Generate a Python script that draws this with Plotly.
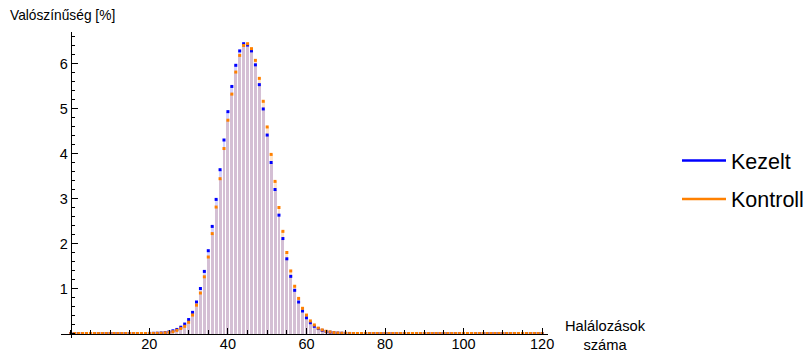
import plotly.graph_objects as go

# ---- data ----
deaths = list(range(0, 121))

kezelt_start = 20
kezelt_values = [0.002, 0.004, 0.007, 0.012, 0.02, 0.035, 0.06, 0.09, 0.14, 0.21,
                 0.31, 0.47, 0.70, 1.00, 1.38, 1.84, 2.38, 2.98, 3.64, 4.30,
                 4.93, 5.49, 5.96, 6.28, 6.44, 6.41, 6.28, 5.97, 5.53, 4.99,
                 4.41, 3.80, 3.20, 2.63, 2.11, 1.66, 1.27, 0.96, 0.70, 0.50,
                 0.35, 0.24, 0.16, 0.11, 0.07, 0.045, 0.03, 0.018, 0.01, 0.006,
                 0.003]

kontroll_start = 20
kontroll_values = [0.001, 0.002, 0.004, 0.008, 0.015, 0.025, 0.04, 0.07, 0.11, 0.16,
                   0.25, 0.41, 0.63, 0.90, 1.26, 1.70, 2.22, 2.81, 3.44, 4.11,
                   4.74, 5.32, 5.81, 6.18, 6.40, 6.44, 6.33, 6.07, 5.67, 5.16,
                   4.59, 3.98, 3.38, 2.80, 2.27, 1.80, 1.39, 1.05, 0.78, 0.56,
                   0.41, 0.28, 0.19, 0.12, 0.08, 0.05, 0.035, 0.02, 0.012, 0.007,
                   0.004, 0.002]

x_ticks = [20, 40, 60, 80, 100, 120]
y_ticks = [1, 2, 3, 4, 5, 6]
series_names = ["Kezelt", "Kontroll"]
x_title = "Halálozások<br>száma"
y_title = "Valószínűség [%]"

# full series over all categories (values outside the listed range are zero)
kezelt = [0.0] * len(deaths)
for i, v in enumerate(kezelt_values):
    kezelt[kezelt_start + i] = v
kontroll = [0.0] * len(deaths)
for i, v in enumerate(kontroll_values):
    kontroll[kontroll_start + i] = v

BLUE = "#0000FF"
ORANGE = "#FF8000"
FONT = "Liberation Sans, Arial, sans-serif"

W, H = 810, 353
ML, MR, MT, MB = 61, 262, 32, 15
XR = [-2.5, 121.5]
YR = [-0.1, 6.7]

fig = go.Figure()

# fillings (to axis)
fig.add_trace(go.Bar(x=deaths, y=kontroll, width=0.75,
                     marker=dict(color="rgba(255,128,0,0.2)", line=dict(width=0)),
                     showlegend=False, hoverinfo="skip"))
fig.add_trace(go.Bar(x=deaths, y=kezelt, width=0.75,
                     marker=dict(color="rgba(0,0,255,0.17)", line=dict(width=0)),
                     showlegend=False, hoverinfo="skip"))
# points
fig.add_trace(go.Scatter(x=deaths, y=kezelt, mode="markers",
                         marker=dict(color=BLUE, size=3, symbol="square"),
                         showlegend=False))
fig.add_trace(go.Scatter(x=deaths, y=kontroll, mode="markers",
                         marker=dict(color=ORANGE, size=3, symbol="square"),
                         showlegend=False))
# legend entries
fig.add_trace(go.Scatter(x=[None], y=[None], mode="lines", name=series_names[0],
                         line=dict(color=BLUE, width=2.5), legend="legend"))
fig.add_trace(go.Scatter(x=[None], y=[None], mode="lines", name=series_names[1],
                         line=dict(color=ORANGE, width=2.5), legend="legend2"))

legend_common = dict(xref="container", yref="container", xanchor="left",
                     yanchor="middle", bgcolor="rgba(0,0,0,0)", itemwidth=44,
                     font=dict(family=FONT, size=21.5, color="black"))

fig.update_layout(
    width=W, height=H,
    margin=dict(l=ML, r=MR, t=MT, b=MB, autoexpand=False),
    paper_bgcolor="white", plot_bgcolor="white",
    barmode="overlay", bargap=0,
    font=dict(family=FONT, size=14, color="black"),
    legend=dict(x=677 / W, y=1 - 160.5 / H, **legend_common),
    legend2=dict(x=677 / W, y=1 - 199 / H, **legend_common),
    xaxis=dict(range=XR, anchor="free", position=(0 - YR[0]) / (YR[1] - YR[0]),
               showline=True, linecolor="black", linewidth=1,
               showgrid=False, zeroline=False,
               tickmode="array", tickvals=x_ticks, ticks="inside", ticklen=6,
               tickcolor="black", tickwidth=1, ticklabelstandoff=-3,
               minor=dict(dtick=5, tick0=0, ticks="inside", ticklen=3.5,
                          tickcolor="black", tickwidth=1, showgrid=False),
               tickfont=dict(size=14.5), automargin=False),
    yaxis=dict(range=YR, anchor="free", position=(0 - XR[0]) / (XR[1] - XR[0]),
               showline=True, linecolor="black", linewidth=1,
               showgrid=False, zeroline=False,
               tickmode="array", tickvals=y_ticks, ticks="inside", ticklen=6,
               tickcolor="black", tickwidth=1,
               minor=dict(dtick=0.2, tick0=0, ticks="inside", ticklen=3.5,
                          tickcolor="black", tickwidth=1, showgrid=False),
               tickfont=dict(size=14.5), automargin=False),
    annotations=[
        dict(text=y_title, xref="paper", yref="paper",
             x=(8 - ML) / (W - ML - MR), y=(H - MB - 16) / (H - MT - MB),
             xanchor="left", yanchor="middle", showarrow=False,
             font=dict(size=13.75)),
        dict(text=x_title, xref="paper", yref="paper",
             x=(605 - ML) / (W - ML - MR), y=(H - MB - 335.5) / (H - MT - MB),
             xanchor="center", yanchor="middle", showarrow=False,
             font=dict(size=14.7)),
    ],
)

fig.write_html("out.html")
